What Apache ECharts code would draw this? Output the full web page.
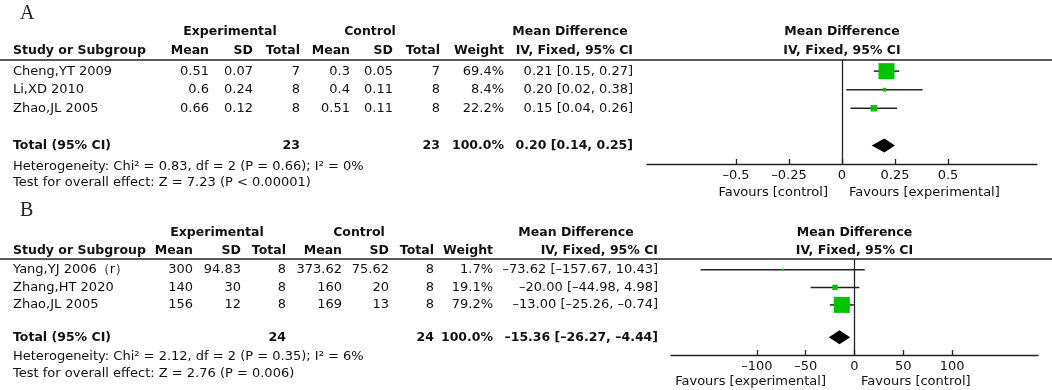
<!DOCTYPE html>
<html>
<head>
<meta charset="utf-8">
<script src="https://cdn.jsdelivr.net/npm/echarts@6/dist/echarts.min.js"></script>
<style>
  html, body { margin: 0; padding: 0; background: #fff; }
  #main { width: 1052px; height: 390px; }
</style>
</head>
<body>
<div id="main"></div>
<script>
// ---- panel A data ----
const studiesA = ['Cheng,YT 2009', 'Li,XD 2010', 'Zhao,JL 2005'];
const expMeanA = [0.51, 0.6, 0.66];
const expSdA = [0.07, 0.24, 0.12];
const expNA = [7, 8, 8];
const ctlMeanA = [0.3, 0.4, 0.51];
const ctlSdA = [0.05, 0.11, 0.11];
const ctlNA = [7, 8, 8];
const weightA = [69.4, 8.4, 22.2];
const mdA = [0.21, 0.20, 0.15];
const loA = [0.15, 0.02, 0.04];
const hiA = [0.27, 0.38, 0.26];
const pooledA = [23, 23, 100.0, 0.20, 0.14, 0.25]; // expN, ctlN, weight, md, lo, hi
const hetA = 'Heterogeneity: Chi\u00b2 = 0.83, df = 2 (P = 0.66); I\u00b2 = 0%';
const effectA = 'Test for overall effect: Z = 7.23 (P < 0.00001)';
const ticksA = [-0.5, -0.25, 0, 0.25, 0.5];
const favoursA = ['Favours [control]', 'Favours [experimental]'];

// ---- panel B data ----
const studiesB = ['Yang,YJ 2006\uff08r\uff09', 'Zhang,HT 2020', 'Zhao,JL 2005'];
const expMeanB = [300, 140, 156];
const expSdB = [94.83, 30, 12];
const expNB = [8, 8, 8];
const ctlMeanB = [373.62, 160, 169];
const ctlSdB = [75.62, 20, 13];
const ctlNB = [8, 8, 8];
const weightB = [1.7, 19.1, 79.2];
const mdB = [-73.62, -20.00, -13.00];
const loB = [-157.67, -44.98, -25.26];
const hiB = [10.43, 4.98, -0.74];
const pooledB = [24, 24, 100.0, -15.36, -26.27, -4.44];
const hetB = 'Heterogeneity: Chi\u00b2 = 2.12, df = 2 (P = 0.35); I\u00b2 = 6%';
const effectB = 'Test for overall effect: Z = 2.76 (P = 0.006)';
const ticksB = [-100, -50, 0, 50, 100];
const favoursB = ['Favours [experimental]', 'Favours [control]'];

const headers = ['Mean', 'SD', 'Total', 'Mean', 'SD', 'Total', 'Weight', 'IV, Fixed, 95% CI'];

// layout (pixels / row units)
const panels = [
  {
    tag: 'A', studies: studiesA, cols: [expMeanA, expSdA, expNA, ctlMeanA, ctlSdA, ctlNA],
    weight: weightA, md: mdA, lo: loA, hi: hiA, pooled: pooledA, het: hetA, effect: effectA,
    ticks: ticksA, favours: favoursA,
    grid: { left: 647, top: 60, width: 390, height: 104 },
    xRange: [-0.92, 0.92], yRange: [-0.6, 5], totalRow: 4,
    colX: [209, 253, 300, 350, 393, 440, 504, 633],
    groupX: [230, 370, 570], tagRow: -3.1, headRows: [-2.1, -1.1], noteRows: [5.15, 6.0],
    favRow: 6.55, favX: [828, 849], lineY: 60
  },
  {
    tag: 'B', studies: studiesB, cols: [expMeanB, expSdB, expNB, ctlMeanB, ctlSdB, ctlNB],
    weight: weightB, md: mdB, lo: loB, hi: hiB, pooled: pooledB, het: hetB, effect: effectB,
    ticks: ticksB, favours: favoursB,
    grid: { left: 671, top: 259, width: 367, height: 96 },
    xRange: [-188, 188], yRange: [-0.62, 4.86], totalRow: 3.85,
    colX: [193, 241, 286, 342, 389, 434, 493, 658],
    groupX: [217, 359, 576], tagRow: -3.4, headRows: [-2.13, -1.1], noteRows: [4.97, 5.92],
    favRow: 6.38, favX: [826, 861], lineY: 259
  }
];

const FONT = '"DejaVu Sans", Verdana, sans-serif';
const dash = s => String(s).replace(/-/g, '\u2013');

let myChart = echarts.init(document.getElementById('main'));

const series = [];
panels.forEach((p, i) => {
  const maxW = Math.max.apply(null, p.weight);
  series.push({
    type: 'custom',
    xAxisIndex: i, yAxisIndex: i,
    data: p.md.map((m, k) => [m, p.lo[k], p.hi[k], k, p.weight[k]]),
    renderItem: (params, api) => {
      const row = api.value(3);
      const c = api.coord([api.value(0), row]);
      const l = api.coord([api.value(1), row]);
      const r = api.coord([api.value(2), row]);
      const s = 2 + 14 * api.value(4) / maxW;
      return {
        type: 'group',
        children: [
          { type: 'line', shape: { x1: l[0], y1: c[1], x2: r[0], y2: c[1] }, style: { stroke: '#222', lineWidth: 1.5 } },
          { type: 'rect', shape: { x: c[0] - s / 2, y: c[1] - s / 2, width: s, height: s }, style: { fill: '#00c400' } }
        ]
      };
    },
    markLine: {
      silent: true, symbol: 'none', animation: false,
      label: { show: false },
      lineStyle: { color: '#222', type: 'solid', width: 1.3 },
      data: [{ xAxis: 0 }]
    },
    animation: false
  });
  // pooled diamond
  series.push({
    type: 'custom',
    xAxisIndex: i, yAxisIndex: i,
    data: [[p.pooled[3], p.pooled[4], p.pooled[5], p.totalRow]],
    renderItem: (params, api) => {
      const row = api.value(3);
      const c = api.coord([api.value(0), row]);
      const l = api.coord([api.value(1), row]);
      const r = api.coord([api.value(2), row]);
      const h = 7;
      return {
        type: 'polygon',
        shape: { points: [[l[0], c[1]], [c[0], c[1] - h], [r[0], c[1]], [c[0], c[1] + h]] },
        style: { fill: '#000' }
      };
    },
    animation: false
  });
});

myChart.setOption({
  animation: false,
  grid: panels.map(p => Object.assign({ containLabel: false }, p.grid)),
  xAxis: panels.map((p, i) => ({
    type: 'value', gridIndex: i, min: p.xRange[0], max: p.xRange[1],
    axisLine: { show: true, onZero: false, lineStyle: { color: '#222', width: 1.3 } },
    axisTick: { show: true, inside: true, length: 5, customValues: p.ticks, lineStyle: { color: '#222', width: 1.3 } },
    axisLabel: { customValues: p.ticks, margin: 5, color: '#111', fontSize: 13, fontFamily: FONT, formatter: v => dash(v) },
    splitLine: { show: false }
  })),
  yAxis: panels.map((p, i) => ({
    type: 'value', gridIndex: i, inverse: true, min: p.yRange[0], max: p.yRange[1], show: false
  })),
  series: series
});

// table text placed on the rows of each panel's y axis
const graphic = [];
function text(x, y, str, align, bold) {
  graphic.push({
    type: 'text', x: x, y: y, silent: true,
    style: { text: str, font: (bold ? 'bold 12.5px ' : '13px ') + FONT, fill: '#111', align: align, verticalAlign: 'middle' }
  });
}
panels.forEach((p, i) => {
  const rowY = r => myChart.convertToPixel({ yAxisIndex: i }, r);
  const cx = p.grid.left + p.grid.width / 2;
  graphic.push({
    type: 'text', x: 20, y: rowY(p.tagRow), silent: true,
    style: { text: p.tag, font: '20px "Liberation Serif", serif', fill: '#222', align: 'left', verticalAlign: 'middle' }
  });
  graphic.push({
    type: 'line', silent: true,
    shape: { x1: 0, y1: p.lineY, x2: 1052, y2: p.lineY },
    style: { stroke: '#222', lineWidth: 1.5 }
  });
  // group headers
  text(p.groupX[0], rowY(p.headRows[0]), 'Experimental', 'center', true);
  text(p.groupX[1], rowY(p.headRows[0]), 'Control', 'center', true);
  text(p.groupX[2], rowY(p.headRows[0]), 'Mean Difference', 'center', true);
  text(cx, rowY(p.headRows[0]), 'Mean Difference', 'center', true);
  text(cx, rowY(p.headRows[1]), 'IV, Fixed, 95% CI', 'center', true);
  text(13, rowY(p.headRows[1]), 'Study or Subgroup', 'left', true);
  headers.forEach((h, k) => text(p.colX[k], rowY(p.headRows[1]), h, 'right', true));
  // study rows
  p.studies.forEach((s, k) => {
    const y = rowY(k);
    text(13, y, s, 'left', false);
    p.cols.forEach((col, j) => text(p.colX[j], y, String(col[k]), 'right', false));
    text(p.colX[6], y, p.weight[k].toFixed(1) + '%', 'right', false);
    text(p.colX[7], y, dash(p.md[k].toFixed(2) + ' [' + p.lo[k].toFixed(2) + ', ' + p.hi[k].toFixed(2) + ']'), 'right', false);
  });
  // total row
  const ty = rowY(p.totalRow);
  const t = p.pooled;
  text(13, ty, 'Total (95% CI)', 'left', true);
  text(p.colX[2], ty, String(t[0]), 'right', true);
  text(p.colX[5], ty, String(t[1]), 'right', true);
  text(p.colX[6], ty, t[2].toFixed(1) + '%', 'right', true);
  text(p.colX[7], ty, dash(t[3].toFixed(2) + ' [' + t[4].toFixed(2) + ', ' + t[5].toFixed(2) + ']'), 'right', true);
  text(13, rowY(p.noteRows[0]), p.het, 'left', false);
  text(13, rowY(p.noteRows[1]), p.effect, 'left', false);
  // favours labels
  text(p.favX[0], rowY(p.favRow), p.favours[0], 'right', false);
  text(p.favX[1], rowY(p.favRow), p.favours[1], 'left', false);
});
myChart.setOption({ graphic: graphic });
</script>
</body>
</html>
